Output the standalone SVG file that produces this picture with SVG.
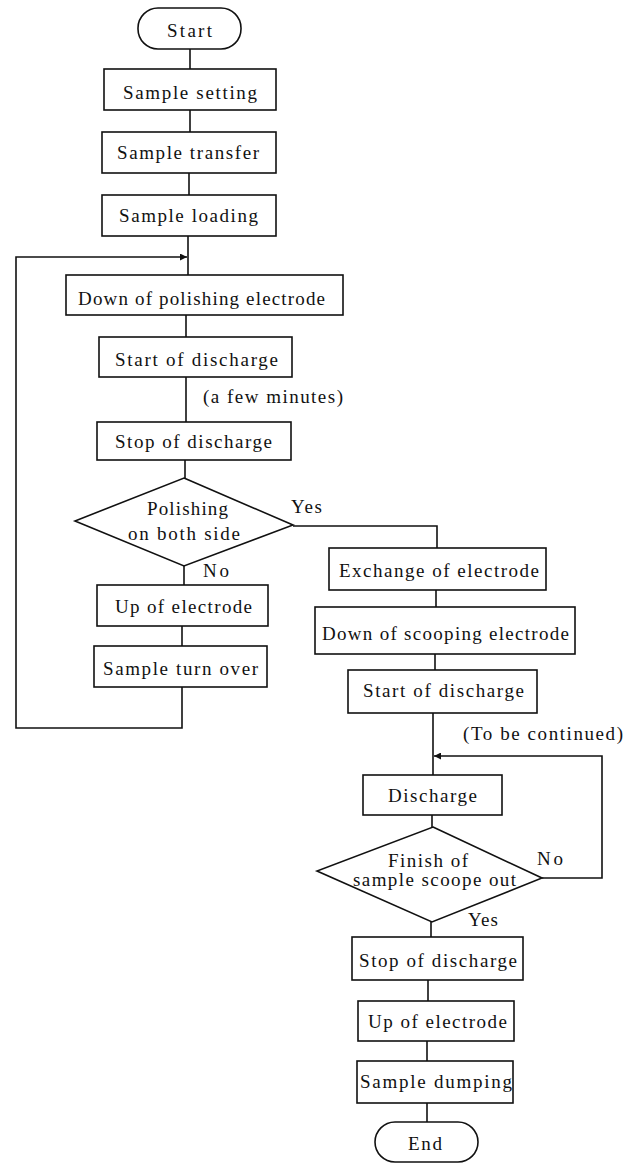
<svg xmlns="http://www.w3.org/2000/svg" width="639" height="1163" viewBox="0 0 639 1163">
<style>
.b{fill:#fff;stroke:#111;stroke-width:1.6}
.c{fill:none;stroke:#111;stroke-width:1.6}
text{font-family:"Liberation Serif","Times New Roman",serif;font-size:19px;fill:#111}
</style>
<defs>
<marker id="ah" viewBox="0 0 10 10" refX="10" refY="5" markerWidth="9" markerHeight="7" markerUnits="userSpaceOnUse" orient="auto">
<path d="M0,0 L10,5 L0,10 z" fill="#111"/>
</marker>
</defs>
<rect width="639" height="1163" fill="#fff"/>
<g id="connectors">
<line class="c" x1="190" y1="49" x2="190" y2="69"/>
<line class="c" x1="190" y1="110" x2="190" y2="132"/>
<line class="c" x1="189" y1="173" x2="189" y2="195"/>
<line class="c" x1="188" y1="236" x2="188" y2="275"/>
<polyline class="c" points="182,687 182,728 16,728 16,257 187,257" marker-end="url(#ah)"/>
<line class="c" x1="186" y1="315" x2="186" y2="337"/>
<line class="c" x1="186" y1="377" x2="186" y2="422"/>
<line class="c" x1="185" y1="460" x2="185" y2="478"/>
<line class="c" x1="184" y1="566" x2="184" y2="585"/>
<line class="c" x1="182" y1="626" x2="182" y2="646"/>
<polyline class="c" points="293,526 437,526 437,548"/>
<line class="c" x1="436" y1="590" x2="436" y2="607"/>
<line class="c" x1="435" y1="654" x2="435" y2="670"/>
<line class="c" x1="433" y1="713" x2="433" y2="775"/>
<polyline class="c" points="542,878 602,878 602,756 434,756" marker-end="url(#ah)"/>
<line class="c" x1="432" y1="815" x2="432" y2="827"/>
<line class="c" x1="431" y1="922" x2="431" y2="937"/>
<line class="c" x1="428" y1="980" x2="428" y2="1001"/>
<line class="c" x1="427" y1="1041" x2="427" y2="1061"/>
<line class="c" x1="427" y1="1103" x2="427" y2="1122"/>
</g>
<g id="start"><rect class="b" x="138" y="8" width="103" height="41" rx="20"/><text x="167" y="37" textLength="45" lengthAdjust="spacing">Start</text></g>
<g id="sample-setting"><rect class="b" x="104" y="69" width="172" height="41"/><text x="123" y="99" textLength="134" lengthAdjust="spacing">Sample setting</text></g>
<g id="sample-transfer"><rect class="b" x="102" y="132" width="174" height="41"/><text x="117" y="159" textLength="142" lengthAdjust="spacing">Sample transfer</text></g>
<g id="sample-loading"><rect class="b" x="102" y="195" width="174" height="41"/><text x="119" y="222" textLength="139" lengthAdjust="spacing">Sample loading</text></g>
<g id="down-polishing"><rect class="b" x="66" y="275" width="277" height="40"/><text x="78" y="305" textLength="247" lengthAdjust="spacing">Down of polishing electrode</text></g>
<g id="start-discharge-1"><rect class="b" x="99" y="337" width="193" height="40"/><text x="115" y="366" textLength="163" lengthAdjust="spacing">Start of discharge</text></g>
<text id="few-minutes" x="203" y="403" textLength="140" lengthAdjust="spacing">(a few minutes)</text>
<g id="stop-discharge-1"><rect class="b" x="97" y="422" width="194" height="38"/><text x="115" y="448" textLength="157" lengthAdjust="spacing">Stop of discharge</text></g>
<g id="polishing-both"><polygon class="b" points="184,478 293,525 184,566 75,521"/><text x="147" y="515" textLength="81" lengthAdjust="spacing">Polishing</text><text x="128" y="540" textLength="112" lengthAdjust="spacing">on both side</text></g>
<text x="291" y="513" textLength="31" lengthAdjust="spacing">Yes</text>
<text x="203" y="577" textLength="26" lengthAdjust="spacing">No</text>
<g id="up-electrode-1"><rect class="b" x="97" y="585" width="171" height="41"/><text x="115" y="613" textLength="137" lengthAdjust="spacing">Up of electrode</text></g>
<g id="sample-turn"><rect class="b" x="94" y="646" width="173" height="41"/><text x="103" y="675" textLength="155" lengthAdjust="spacing">Sample turn over</text></g>
<g id="exchange"><rect class="b" x="329" y="548" width="217" height="42"/><text x="339" y="577" textLength="200" lengthAdjust="spacing">Exchange of electrode</text></g>
<g id="down-scooping"><rect class="b" x="315" y="607" width="260" height="47"/><text x="322" y="640" textLength="247" lengthAdjust="spacing">Down of scooping electrode</text></g>
<g id="start-discharge-2"><rect class="b" x="348" y="670" width="189" height="43"/><text x="363" y="697" textLength="161" lengthAdjust="spacing">Start of discharge</text></g>
<text id="to-be-continued" x="463" y="740" textLength="160" lengthAdjust="spacing">(To be continued)</text>
<g id="discharge"><rect class="b" x="363" y="775" width="139" height="40"/><text x="388" y="802" textLength="89" lengthAdjust="spacing">Discharge</text></g>
<g id="finish-scoope"><polygon class="b" points="433,827 542,878 432,922 317,871"/><text x="388" y="867" textLength="80" lengthAdjust="spacing">Finish of</text><text x="353" y="886" textLength="163" lengthAdjust="spacing">sample scoope out</text></g>
<text x="537" y="865" textLength="26" lengthAdjust="spacing">No</text>
<text x="468" y="926" textLength="30" lengthAdjust="spacing">Yes</text>
<g id="stop-discharge-2"><rect class="b" x="352" y="937" width="171" height="43"/><text x="359" y="967" textLength="158" lengthAdjust="spacing">Stop of discharge</text></g>
<g id="up-electrode-2"><rect class="b" x="358" y="1001" width="156" height="40"/><text x="368" y="1028" textLength="139" lengthAdjust="spacing">Up of electrode</text></g>
<g id="sample-dumping"><rect class="b" x="357" y="1061" width="156" height="42"/><text x="360" y="1088" textLength="152" lengthAdjust="spacing">Sample dumping</text></g>
<g id="end"><rect class="b" x="375" y="1122" width="103" height="40" rx="20"/><text x="408" y="1150" textLength="34" lengthAdjust="spacing">End</text></g>
</svg>
